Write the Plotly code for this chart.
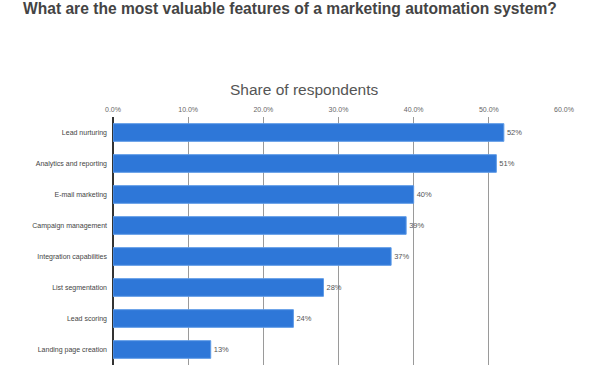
import plotly.graph_objects as go

categories = ["Lead nurturing", "Analytics and reporting", "E-mail marketing",
              "Campaign management", "Integration capabilities", "List segmentation",
              "Lead scoring", "Landing page creation"]
values = [52, 51, 40, 39, 37, 28, 24, 13]
value_labels = ["52%", "51%", "40%", "39%", "37%", "28%", "24%", "13%"]
tick_vals = [0, 10, 20, 30, 40, 50, 60]
tick_text = ["0.0%", "10.0%", "20.0%", "30.0%", "40.0%", "50.0%", "60.0%"]

fig = go.Figure(go.Bar(
    x=values, y=categories, orientation="h",
    marker=dict(color="#2E77D8", line=dict(color="#5E9BE6", width=1)),
    text=value_labels, textposition="outside",
    textfont=dict(family="Liberation Sans, Arial", size=7.5, color="#555555"),
    cliponaxis=False,
))

plot_l, plot_r, plot_t, plot_b = 113, 36, 117, 16
plot_w = 600 - plot_l - plot_r
plot_h = 381 - plot_t - plot_b

fig.update_layout(
    width=600, height=381,
    margin=dict(l=plot_l, r=plot_r, t=plot_t, b=plot_b, autoexpand=False),
    paper_bgcolor="white", plot_bgcolor="white",
    bargap=0.43,
    showlegend=False,
    title=dict(text="<b>What are the most valuable features of a marketing automation system?</b>",
               x=23 / 600, xanchor="left", y=1 - 3 / 381, yanchor="top",
               font=dict(family="Liberation Sans, Arial", size=15.6, color="#444444")),
    xaxis=dict(range=[0, 60], side="top", tickvals=tick_vals, ticktext=tick_text,
               showgrid=True, gridcolor="#9a9a9a", gridwidth=1,
               zeroline=True, zerolinecolor="#333333", zerolinewidth=1.5,
               tickfont=dict(family="Liberation Sans, Arial", size=7, color="#666666"),
               ticks="", ticklabelstandoff=3, fixedrange=True, automargin=False),
    yaxis=dict(autorange="reversed", showgrid=False, ticks="", automargin=False,
               tickfont=dict(family="Liberation Sans, Arial", size=7, color="#444444"),
               ticklabelstandoff=5, fixedrange=True),
    annotations=[dict(text="Share of respondents", xref="paper", yref="paper",
                      x=(304 - plot_l) / plot_w, y=1 + (plot_t - 89) / plot_h,
                      yanchor="middle", xanchor="center", showarrow=False,
                      font=dict(family="Liberation Sans, Arial", size=15.5, color="#555555"))],
)

fig.write_html("out.html", config={"displayModeBar": False},
               post_script="document.body.style.margin='0';")
